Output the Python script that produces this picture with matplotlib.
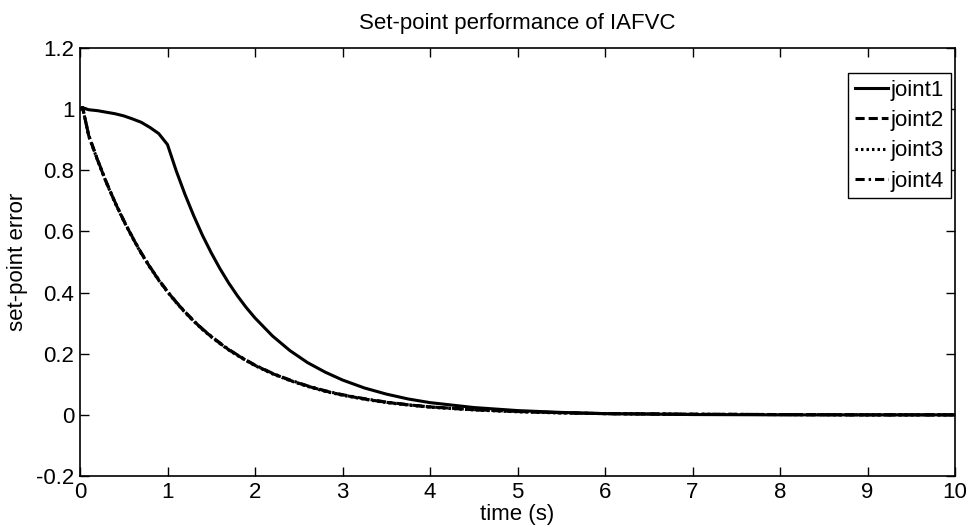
import matplotlib
matplotlib.use("Agg")
import matplotlib.pyplot as plt

plt.rcParams['font.family'] = ['Liberation Sans', 'DejaVu Sans']

# Sample times (s)
t = [0.0, 0.03, 0.1, 0.2, 0.3, 0.4, 0.5, 0.6, 0.7, 0.8, 0.9, 1.0,
     1.1, 1.2, 1.3, 1.4, 1.5, 1.6, 1.7, 1.8, 1.9, 2.0, 2.2, 2.4, 2.6,
     2.8, 3.0, 3.25, 3.5, 3.75, 4.0, 4.5, 5.0, 5.5, 6.0, 7.0, 8.0, 9.0, 10.0]

# Set-point error of each joint
joint1 = [1.000, 1.005, 0.998, 0.995, 0.990, 0.985, 0.978, 0.968, 0.957, 0.940,
          0.920, 0.884, 0.798, 0.721, 0.651, 0.587, 0.530, 0.478, 0.431, 0.389,
          0.351, 0.317, 0.258, 0.210, 0.171, 0.140, 0.114, 0.088, 0.068, 0.052,
          0.040, 0.024, 0.014, 0.008, 0.004, 0.001, 0.000, 0.000, 0.000]
joint2 = [1.000, 1.005, 0.913, 0.834, 0.761, 0.695, 0.635, 0.580, 0.529, 0.483,
          0.441, 0.403, 0.368, 0.336, 0.307, 0.280, 0.256, 0.234, 0.213, 0.195,
          0.178, 0.162, 0.135, 0.113, 0.094, 0.078, 0.065, 0.052, 0.041, 0.033,
          0.026, 0.017, 0.011, 0.007, 0.004, 0.002, 0.001, 0.000, 0.000]
joint3 = [1.000, 1.005, 0.912, 0.833, 0.760, 0.694, 0.634, 0.579, 0.528, 0.482,
          0.440, 0.402, 0.367, 0.335, 0.306, 0.279, 0.255, 0.233, 0.212, 0.194,
          0.177, 0.161, 0.134, 0.112, 0.093, 0.077, 0.064, 0.051, 0.040, 0.032,
          0.025, 0.016, 0.010, 0.006, 0.004, 0.002, 0.001, 0.000, 0.000]
joint4 = [1.000, 1.005, 0.914, 0.835, 0.762, 0.696, 0.636, 0.581, 0.530, 0.484,
          0.442, 0.404, 0.369, 0.337, 0.308, 0.281, 0.257, 0.235, 0.214, 0.196,
          0.179, 0.163, 0.136, 0.114, 0.095, 0.079, 0.066, 0.053, 0.042, 0.033,
          0.026, 0.017, 0.011, 0.007, 0.004, 0.002, 0.001, 0.000, 0.000]

labels = ['joint1', 'joint2', 'joint3', 'joint4']
xticks = [0, 1, 2, 3, 4, 5, 6, 7, 8, 9, 10]
yticks = [-0.2, 0, 0.2, 0.4, 0.6, 0.8, 1.0, 1.2]
yticklabels = ['-0.2', '0', '0.2', '0.4', '0.6', '0.8', '1', '1.2']

W, H = 968, 527
fig = plt.figure(figsize=(W / 100, H / 100), dpi=100)
left, right, top, bottom = 80, 955, 48, 476
ax = fig.add_axes([left / W, 1 - bottom / H, (right - left) / W, (bottom - top) / H])

lw = 2.2
ax.plot(t, joint1, color='black', lw=lw, linestyle='-', label=labels[0])
ax.plot(t, joint2, color='black', lw=lw, linestyle=(0, (3.0, 1.3)), label=labels[1])
ax.plot(t, joint3, color='black', lw=lw, linestyle=(0, (0.8, 1.0)), label=labels[2])
ax.plot(t, joint4, color='black', lw=lw, linestyle=(0, (3.0, 1.3, 0.8, 1.3)), label=labels[3])

ax.set_xlim(0, 10)
ax.set_ylim(-0.2, 1.2)
ax.set_xticks(xticks)
ax.set_xticklabels([str(v) for v in xticks])
ax.set_yticks(yticks)
ax.set_yticklabels(yticklabels)

fs = 16
ax.tick_params(direction='in', length=6.5, width=1.0, labelsize=fs, top=True, right=True,
               pad=4, colors='black')
for s in ax.spines.values():
    s.set_linewidth(1.2)
    s.set_color('black')

ax.set_title('Set-point performance of IAFVC', fontsize=fs, pad=14)
ax.set_xlabel('time (s)', fontsize=fs, labelpad=1)
ax.set_ylabel('set-point error', fontsize=fs, labelpad=6)

leg = ax.legend(loc='upper right', bbox_to_anchor=(951 / W, 1 - 73 / H),
                bbox_transform=fig.transFigure, borderaxespad=0, fontsize=fs,
                handlelength=1.5, handletextpad=0.12, labelspacing=0.42,
                borderpad=0.3, fancybox=False, framealpha=1, edgecolor='black')
leg.get_frame().set_linewidth(1.0)

fig.savefig('out.png', dpi=100)
